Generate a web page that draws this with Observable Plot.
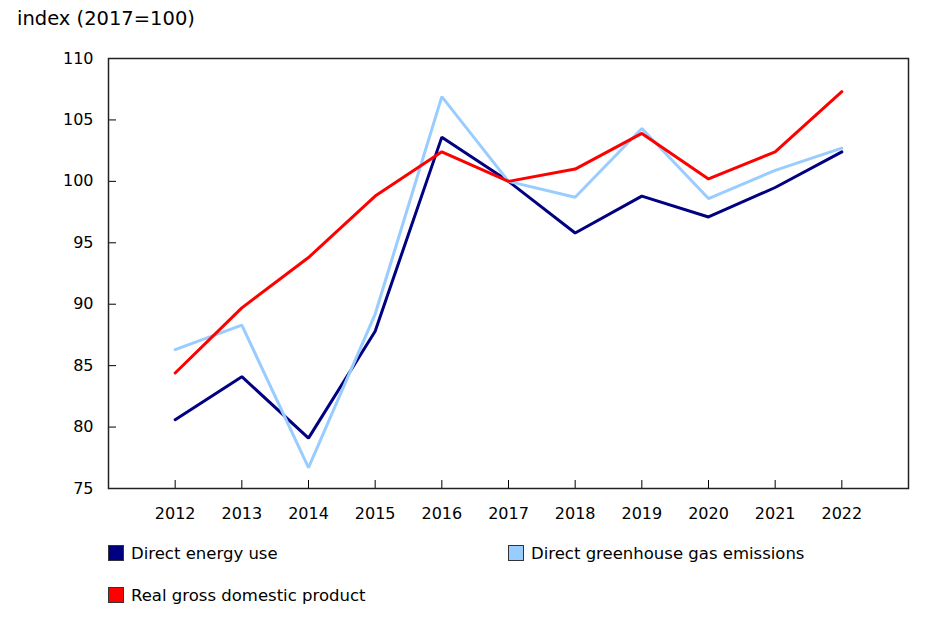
<!DOCTYPE html>
<html>
<head>
<meta charset="utf-8">
<script src="https://cdn.jsdelivr.net/npm/d3@7"></script>
<script src="https://cdn.jsdelivr.net/npm/@observablehq/plot@0.6"></script>
<style>
  body { margin: 0; background: #fff; font-family: "DejaVu Sans", Verdana, sans-serif; color: #000; }
  #title { height: 40px; line-height: 37px; font-size: 19.5px; padding-left: 17px; }
  #legend { position: relative; height: 93px; font-size: 16.5px; }
  .item { position: absolute; display: flex; align-items: center; height: 20px; }
  .sw { width: 16px; height: 16px; border: 1px solid #333; margin-right: 7px; box-sizing: border-box; }
</style>
</head>
<body>
<div id="title">index (2017=100)</div>
<div id="chart"></div>
<div id="legend"></div>
<script>
const years = [2012, 2013, 2014, 2015, 2016, 2017, 2018, 2019, 2020, 2021, 2022];
const energy = [80.6, 84.1, 79.1, 87.8, 103.6, 100.0, 95.8, 98.8, 97.1, 99.5, 102.4];
const ghg = [86.3, 88.3, 76.7, 89.2, 106.9, 100.0, 98.7, 104.3, 98.6, 100.9, 102.7];
const gdp = [84.4, 89.7, 93.8, 98.8, 102.4, 100.0, 101.0, 103.9, 100.2, 102.4, 107.3];
const seriesNames = ["Direct energy use", "Direct greenhouse gas emissions", "Real gross domestic product"];
const seriesColors = ["#000080", "#99ccff", "#ff0000"];
const yTicks = [75, 80, 85, 90, 95, 100, 105, 110];

const seriesValues = [energy, ghg, gdp];
const data = [];
seriesNames.forEach((name, i) => {
  years.forEach((yr, j) => data.push({series: name, year: yr, value: seriesValues[i][j]}));
});

const plot = Plot.plot({
  width: 943,
  height: 488,
  marginTop: 18,
  marginBottom: 40,
  marginLeft: 108,
  marginRight: 35,
  style: {fontFamily: "DejaVu Sans, Verdana, sans-serif", fontSize: "16px", color: "#000", background: "#fff"},
  x: {domain: [2011, 2023]},
  y: {domain: [75, 110]},
  color: {domain: seriesNames, range: seriesColors},
  marks: [
    Plot.axisX({ticks: years, tickSize: 8, dy: -8, tickFormat: () => "", label: null, stroke: "#000"}),
    Plot.axisX({ticks: years, tickSize: 0, tickPadding: 19, tickFormat: d => String(d), label: null}),
    Plot.axisY({ticks: yTicks, tickSize: 8, dx: 8, tickFormat: () => "", label: null, stroke: "#000"}),
    Plot.axisY({ticks: yTicks, tickSize: 0, tickPadding: 15, tickFormat: d => String(d), label: null}),
    Plot.line(data, {x: "year", y: "value", z: "series", stroke: "series", strokeWidth: 3, strokeLinejoin: "miter"}),
    Plot.frame({stroke: "#222", strokeWidth: 1.5})
  ]
});
document.getElementById("chart").appendChild(plot);

const legend = document.getElementById("legend");
const positions = [[108, 15], [508, 15], [108, 57]];
seriesNames.forEach((name, i) => {
  const it = document.createElement("div");
  it.className = "item";
  it.style.left = positions[i][0] + "px";
  it.style.top = positions[i][1] + "px";
  const sw = document.createElement("span");
  sw.className = "sw";
  sw.style.background = seriesColors[i];
  const tx = document.createElement("span");
  tx.textContent = name;
  it.appendChild(sw);
  it.appendChild(tx);
  legend.appendChild(it);
});
</script>
</body>
</html>
